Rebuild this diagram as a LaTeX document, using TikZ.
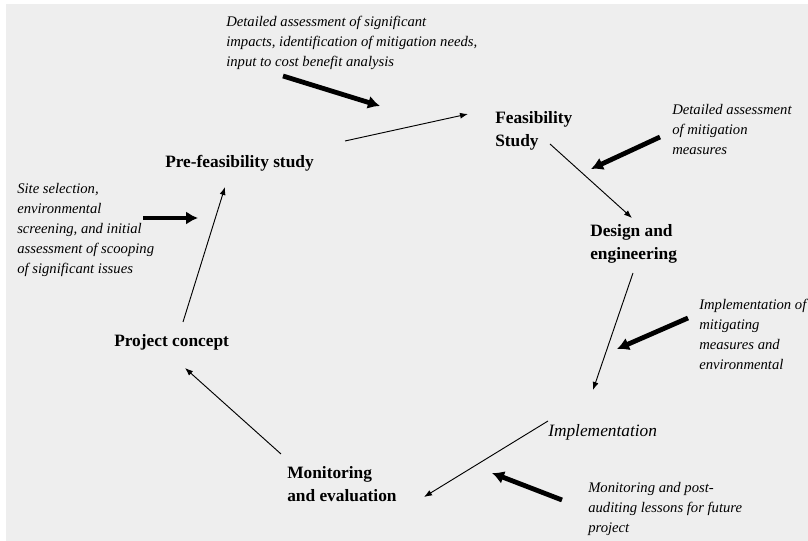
\documentclass[tikz,border=0pt]{standalone}
\usepackage{fontspec}
\setmainfont{Liberation Serif}
\usetikzlibrary{arrows.meta}
\definecolor{sheet}{HTML}{EEEEEE}
\tikzset{
  stage/.style={
    inner sep = 0pt,
    anchor = base west,
    align = left,
    font = \fontsize{13}{17.25}\selectfont\bfseries
  },
  note/.style={
    inner sep = 0pt,
    anchor = base west,
    align = left,
    font = \fontsize{11}{15}\selectfont\itshape
  },
  flow/.style={
    line width = 0.7pt,
    -{Latex[length=6pt,width=4.5pt]}
  },
  push/.style={
    line width = 3.6pt,
    -{Latex[length=9pt,width=10pt]}
  }
}

\begin{document}
\begin{tikzpicture}[x=0.75pt,y=-0.75pt]
    \useasboundingbox (0,0) rectangle (808,541);
    \fill[white] (0,0) rectangle (808,541);
    \fill[sheet] (6,4) rectangle (808,541);
    % stages of the cycle (at the baseline of the last line)
    \node[stage] (pre) at (165,168) {Pre-feasibility study};
    \node[stage] (feas) at (495,147) {Feasibility\\Study};
    \node[stage] (design) at (590,260) {Design and\\engineering};
    \node[stage,font=\fontsize{13}{17.25}\selectfont\itshape] (impl) at (548,437) {Implementation};
    \node[stage] (mon) at (287,502) {Monitoring\\and evaluation};
    \node[stage] (concept) at (114,347) {Project concept};
    % notes
    \node[note] (sitenote) at (17,274) {Site selection,\\environmental\\screening, and initial\\assessment of scooping\\of significant issues};
    \node[note] (impactnote) at (226,67) {Detailed assessment of significant\\impacts, identification of mitigation needs,\\input to cost benefit analysis};
    \node[note] (measnote) at (672,155) {Detailed assessment\\of mitigation\\measures};
    \node[note] (implnote) at (699,370) {Implementation of\\mitigating\\measures and\\environmental};
    \node[note] (lessnote) at (588,533) {Monitoring and post-\\auditing lessons for future\\project};
    % ends of the connectors
    \coordinate (pre-out) at (345,141);
    \coordinate (feas-in) at (468,114);
    \coordinate (feas-out) at (550,144);
    \coordinate (design-in) at (632,218);
    \coordinate (design-out) at (633,273);
    \coordinate (impl-in) at (593,390);
    \coordinate (impl-out) at (548,421);
    \coordinate (mon-in) at (424,497);
    \coordinate (mon-out) at (281,454);
    \coordinate (concept-in) at (185,368);
    \coordinate (concept-out) at (183,322);
    \coordinate (pre-in) at (225,187);
    \draw[flow] (pre-out) -- (feas-in);
    \draw[flow] (feas-out) -- (design-in);
    \draw[flow] (design-out) -- (impl-in);
    \draw[flow] (impl-out) -- (mon-in);
    \draw[flow] (mon-out) -- (concept-in);
    \draw[flow] (concept-out) -- (pre-in);
    % inputs from the notes
    \coordinate (impact-tail) at (283,76);
    \coordinate (impact-tip) at (380,106);
    \coordinate (site-tail) at (143,218);
    \coordinate (site-tip) at (198,218);
    \coordinate (meas-tail) at (660,137);
    \coordinate (meas-tip) at (591,169);
    \coordinate (impl-tail) at (688,318);
    \coordinate (impl-tip) at (617,349);
    \coordinate (less-tail) at (562,500);
    \coordinate (less-tip) at (492,473);
    \draw[push] (impact-tail) -- (impact-tip);
    \draw[push] (site-tail) -- (site-tip);
    \draw[push] (meas-tail) -- (meas-tip);
    \draw[push] (impl-tail) -- (impl-tip);
    \draw[push] (less-tail) -- (less-tip);
\end{tikzpicture}
\end{document}
